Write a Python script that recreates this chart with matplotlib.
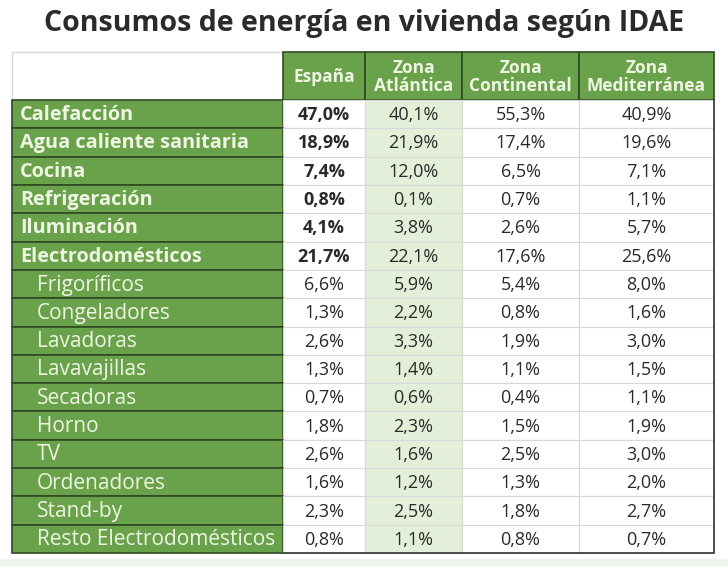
import matplotlib
matplotlib.use("Agg")
from matplotlib import pyplot as plt
from matplotlib.patches import Rectangle

plt.rcParams['font.family'] = ['Open Sans', 'DejaVu Sans']

# %%
title = "Consumos de energía en vivienda según IDAE"
headers = ["España", "Zona\nAtlántica", "Zona\nContinental", "Zona\nMediterránea"]
categories = ["Calefacción", "Agua caliente sanitaria", "Cocina", "Refrigeración",
              "Iluminación", "Electrodomésticos", "Frigoríficos", "Congeladores",
              "Lavadoras", "Lavavajillas", "Secadoras", "Horno", "TV",
              "Ordenadores", "Stand-by", "Resto Electrodomésticos"]
n_main = 6  # first rows are the main groups, rest are appliances
espana = [47.0, 18.9, 7.4, 0.8, 4.1, 21.7, 6.6, 1.3, 2.6, 1.3, 0.7, 1.8, 2.6, 1.6, 2.3, 0.8]
atlantica = [40.1, 21.9, 12.0, 0.1, 3.8, 22.1, 5.9, 2.2, 3.3, 1.4, 0.6, 2.3, 1.6, 1.2, 2.5, 1.1]
continental = [55.3, 17.4, 6.5, 0.7, 2.6, 17.6, 5.4, 0.8, 1.9, 1.1, 0.4, 1.5, 2.5, 1.3, 1.8, 0.8]
mediterranea = [40.9, 19.6, 7.1, 1.1, 5.7, 25.6, 8.0, 1.6, 3.0, 1.5, 1.1, 1.9, 3.0, 2.0, 2.7, 0.7]

# %%
green = "#6aa24b"
dark = "#2f4a24"
cream = "#eef5e2"
light = "#e4efda"
grid = "#d9d9d9"

x_edges = [12, 283, 365, 462, 579, 714]
y_top, y_head, y_bot = 52, 100, 553
nrows = len(categories)
rh = (y_bot - y_head) / nrows

fig = plt.figure(figsize=(7.28, 5.66), dpi=100)
ax = fig.add_axes([0, 0, 1, 1])
ax.set_xlim(0, 728)
ax.set_ylim(566, 0)
ax.axis('off')

ax.text(364, 23, title, ha='center', va='center', fontsize=20.5, fontweight='bold', color="#2b2b2b")

# bottom band
ax.add_patch(Rectangle((0, 559), 728, 7, fc="#eef5ea", ec='none'))

# empty corner
ax.add_patch(Rectangle((x_edges[0], y_top), x_edges[1] - x_edges[0], y_head - y_top,
                       fc='white', ec=grid, lw=1))

# header
for j, h in enumerate(headers):
    x0, x1 = x_edges[j + 1], x_edges[j + 2]
    ax.add_patch(Rectangle((x0, y_top), x1 - x0, y_head - y_top, fc=green, ec=dark, lw=1.2))
    ax.text((x0 + x1) / 2, (y_top + y_head) / 2 + 1, h, ha='center', va='center',
            fontsize=12.5, fontweight='bold', color=cream, linespacing=1.0)

# body
cols = [espana, atlantica, continental, mediterranea]
for i, cat in enumerate(categories):
    y0 = y_head + i * rh
    yc = y0 + rh / 2
    main = i < n_main
    ax.add_patch(Rectangle((x_edges[0], y0), x_edges[1] - x_edges[0], rh, fc=green, ec=dark, lw=1.2))
    ax.text(x_edges[0] + (8 if main else 25), yc + 1, cat, ha='left', va='center',
            fontsize=14.3 if main else 15, fontweight='bold' if main else 'normal', color=cream)
    for j, vals in enumerate(cols):
        x0, x1 = x_edges[j + 1], x_edges[j + 2]
        ax.add_patch(Rectangle((x0, y0), x1 - x0, rh, fc=light if j == 1 else 'white',
                               ec=grid, lw=0.8))
        s = f"{vals[i]:.1f}".replace('.', ',') + '%'
        ax.text((x0 + x1) / 2, yc + 1, s, ha='center', va='center', fontsize=13,
                fontweight='bold' if (main and j == 0) else 'normal', color="#2a2a2a")

# outer frame of data area
ax.plot([x_edges[-1], x_edges[-1], x_edges[1]], [y_head, y_bot, y_bot], color="#333333", lw=1.2)

fig.savefig("out.png", dpi=100)
